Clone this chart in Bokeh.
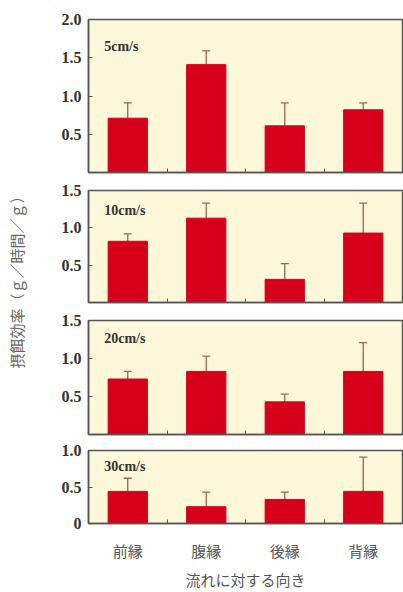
import math
from bokeh.plotting import figure
from bokeh.layouts import row, column
from bokeh.models import (ColumnDataSource, FixedTicker, Label, Whisker, TeeHead, Range1d,
                          NumeralTickFormatter)
from bokeh.embed import file_html
from bokeh.resources import INLINE

# ---- data ----
categories = ["前縁", "腹縁", "後縁", "背縁"]
speeds = ["5cm/s", "10cm/s", "20cm/s", "30cm/s"]
means_5 = [0.71, 1.41, 0.61, 0.82]
tops_5 = [0.91, 1.59, 0.91, 0.91]
means_10 = [0.82, 1.13, 0.31, 0.93]
tops_10 = [0.92, 1.33, 0.52, 1.33]
means_20 = [0.73, 0.83, 0.43, 0.83]
tops_20 = [0.83, 1.03, 0.53, 1.21]
means_30 = [0.44, 0.23, 0.33, 0.44]
tops_30 = [0.62, 0.43, 0.43, 0.91]
y_max = [2.0, 1.5, 1.5, 1.0]
y_ticks = [[0.5, 1.0, 1.5, 2.0], [0.5, 1.0, 1.5], [0.5, 1.0, 1.5], [0, 0.5, 1.0]]
y_title = "摂餌効率（ｇ／時間／ｇ）"
x_title = "流れに対する向き"

means = [means_5, means_10, means_20, means_30]
tops = [tops_5, tops_10, tops_20, tops_30]

BAR = "#d7001b"
BG = "#fdf8d9"
ERR = "#a5604c"
AX = "#555555"
SERIF = "Liberation Serif"
CJK = "Noto Sans CJK JP"

heights = [181, 130, 131, 150]
borders = [(19, 9), (9, 9), (9, 8), (8, 65)]
label_y = [1.65, 1.23, 1.26, 0.78]

centers = [i + 0.5 for i in range(len(categories))]
bounds = list(range(1, len(categories)))

panels = []
for k in range(4):
    bt, bb = borders[k]
    p = figure(width=373, height=heights[k], output_backend="svg", toolbar_location=None,
               x_range=Range1d(0, len(categories)), y_range=Range1d(0, y_max[k]),
               min_border_left=58, min_border_right=1, min_border_top=bt, min_border_bottom=bb,
               background_fill_color=BG, border_fill_color="white")
    p.outline_line_color = AX
    p.outline_line_width = 1.5
    p.grid.visible = False
    src = ColumnDataSource(dict(x=centers, m=means[k], t=tops[k]))
    p.vbar(x="x", top="m", bottom=0, width=0.5, source=src, fill_color=BAR, line_color=BAR)
    w = Whisker(base="x", lower="m", upper="t", source=src, line_color=ERR, line_width=1.3,
                upper_head=TeeHead(size=8, line_color=ERR, line_width=1.3), lower_head=None)
    p.add_layout(w)

    # y axis
    ya = p.yaxis[0]
    ya.ticker = FixedTicker(ticks=y_ticks[k])
    ya.formatter = NumeralTickFormatter(format="0.0")
    ya.major_label_overrides = {0: "0"}
    ya.major_tick_in = 4
    ya.major_tick_out = 0
    ya.minor_tick_line_color = None
    ya.axis_line_color = AX
    ya.axis_line_width = 1.5
    ya.major_tick_line_color = AX
    ya.major_label_text_font = SERIF
    ya.major_label_text_font_style = "bold"
    ya.major_label_text_font_size = "16px"
    ya.major_label_text_color = "#333333"
    ya.major_label_standoff = 7

    # x axis
    xa = p.xaxis[0]
    xa.major_tick_line_color = None
    xa.minor_tick_in = 4
    xa.minor_tick_out = 0
    xa.minor_tick_line_color = AX
    xa.axis_line_color = AX
    xa.axis_line_width = 1.5
    if k < 3:
        xa.ticker = FixedTicker(ticks=[], minor_ticks=bounds)
        xa.major_label_standoff = 0
    else:
        xa.ticker = FixedTicker(ticks=centers, minor_ticks=bounds)
        xa.major_label_overrides = {c: categories[i] for i, c in enumerate(centers)}
        xa.major_label_text_font = CJK
        xa.major_label_text_font_size = "15px"
        xa.major_label_text_color = "#555555"
        xa.major_label_standoff = 10
        xa.axis_label = x_title
        xa.axis_label_text_font = CJK
        xa.axis_label_text_font_size = "15px"
        xa.axis_label_text_font_style = "normal"
        xa.axis_label_text_color = "#555555"
        xa.axis_label_standoff = 5

    p.add_layout(Label(x=0.2, y=label_y[k], text=speeds[k], text_font=SERIF,
                       text_font_style="bold", text_font_size="14px",
                       text_color="#333333", text_baseline="middle"))
    panels.append(p)

lab = figure(width=30, height=592, output_backend="svg", toolbar_location=None,
             x_range=Range1d(0, 30), y_range=Range1d(0, 592), min_border=0)
lab.axis.visible = False
lab.grid.visible = False
lab.outline_line_color = None
lab.add_layout(Label(x=16, y=592 - 278, text=y_title, angle=math.pi / 2,
                     text_font=CJK, text_font_size="15px", text_color="#666666",
                     text_align="center", text_baseline="middle"))

layout = row(lab, column(*panels, spacing=0), spacing=0)
open("out.html", "w").write(file_html(layout, INLINE))
